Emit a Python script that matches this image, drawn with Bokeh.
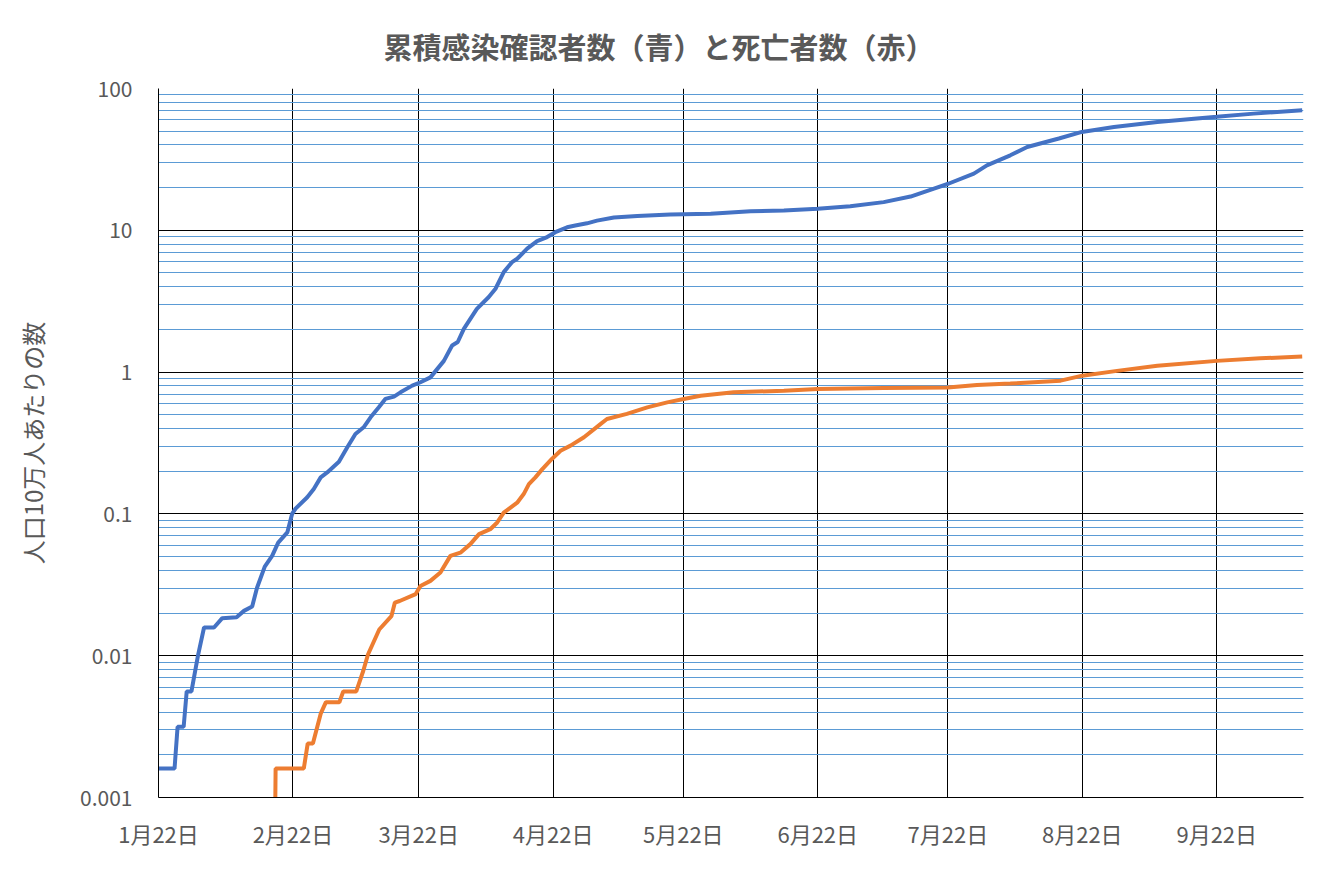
from bokeh.plotting import figure
from bokeh.models import Range1d, FixedTicker
from bokeh.embed import file_html
from bokeh.resources import INLINE

# ---- data (days since 1月22日) ----
tick_days = [0, 31, 60, 91, 121, 152, 182, 213, 244]
tick_labels = ["1月22日", "2月22日", "3月22日", "4月22日", "5月22日",
               "6月22日", "7月22日", "8月22日", "9月22日"]

cases_day = [0, 3.7, 4.4, 5.8, 6.5, 7.6, 9.1, 10.5, 12.8, 14.7, 18.0, 19.7, 21.6,
             22.7, 24.5, 26.2, 27.6, 29.7, 30.8, 31.6, 34.3, 35.8, 37.4, 38.9,
             41.6, 43.5, 45.4, 47.3, 48.9, 50.8, 52.3, 54.3, 55.8, 58.5, 60.4,
             62.7, 65.8, 67.7, 69.0, 70.4, 73.4, 76.1, 77.7, 79.6, 81.5, 82.7,
             85.0, 87.3, 89.6, 91.5, 94.2, 96.1, 98.8, 101.1, 105.0, 110.4, 118.0,
             127.3, 136.5, 144.2, 152.0, 159.5, 167.2, 173.4, 178.8, 182.1, 188.0,
             191.0, 196.4, 200.3, 207.6, 212.9, 220.3, 230.3, 244.0, 252.5, 263.7]
cases_val = [0.0016, 0.0016, 0.00315, 0.00315, 0.0056, 0.0056, 0.0100, 0.0158,
             0.0158, 0.0184, 0.0187, 0.0207, 0.0222, 0.030, 0.0425, 0.0506, 0.0628,
             0.074, 0.100, 0.109, 0.131, 0.150, 0.181, 0.196, 0.233, 0.294, 0.366,
             0.408, 0.48, 0.565, 0.647, 0.672, 0.72, 0.803, 0.848, 0.918, 1.2, 1.54,
             1.63, 2.02, 2.79, 3.37, 3.87, 5.07, 5.96, 6.3, 7.42, 8.4, 8.96, 9.7,
             10.5, 10.8, 11.2, 11.7, 12.3, 12.6, 12.9, 13.1, 13.6, 13.8, 14.2, 14.8,
             15.8, 17.3, 19.7, 21.3, 25.1, 28.7, 33.8, 38.7, 44.4, 49.4, 53.6, 58.1,
             63.1, 66.5, 70.3]

deaths_day = [26, 27, 33.5, 34.4, 35.6, 37.4, 38.6, 41.7, 42.6, 45.6, 47.2, 48.3,
              50.9, 53.7, 54.5, 55.6, 59.3, 60.4, 62.7, 65.0, 67.3, 69.6, 71.9,
              73.9, 76.5, 78.1, 79.6, 82.7, 84.2, 85.4, 86.9, 88.5, 90.7, 92.7,
              95.0, 98.1, 101.9, 103.4, 108.0, 112.7, 117.3, 121.1, 125.0, 132.6,
              144.2, 152.0, 167.2, 182.0, 188.7, 196.4, 208.0, 213.0, 221.0, 230.3,
              244.0, 254.0, 263.7]
deaths_val = [0.000001, 0.0016, 0.0016, 0.0024, 0.0024, 0.0039, 0.0047, 0.0047,
              0.0056, 0.0056, 0.0078, 0.0102, 0.0153, 0.019, 0.0237, 0.0243, 0.0272,
              0.031, 0.0337, 0.0386, 0.0506, 0.0533, 0.0612, 0.072, 0.078, 0.087,
              0.102, 0.12, 0.138, 0.162, 0.181, 0.207, 0.244, 0.279, 0.303, 0.347,
              0.43, 0.467, 0.507, 0.564, 0.612, 0.646, 0.682, 0.72, 0.74, 0.76,
              0.773, 0.78, 0.81, 0.83, 0.87, 0.944, 1.02, 1.11, 1.2, 1.25, 1.29]

y_major = [0.001, 0.01, 0.1, 1, 10, 100]
y_labels = ["0.001", "0.01", "0.1", "1", "10", "100"]
title_text = "累積感染確認者数（青）と死亡者数（赤）"

FONT = "Noto Sans CJK JP"
GRAY = "#595959"

p = figure(width=1315, height=862, output_backend="svg", toolbar_location=None,
           y_axis_type="log",
           x_range=Range1d(0, 264), y_range=Range1d(0.001, 100),
           min_border_left=158, min_border_right=12, min_border_top=88,
           min_border_bottom=65)
p.outline_line_color = None
p.background_fill_color = "white"
p.border_fill_color = "white"

p.title.text = title_text
p.title.text_font = FONT
p.title.text_font_size = "29px"
p.title.text_font_style = "bold"
p.title.text_color = GRAY
p.title.align = "left"
p.title.offset = 225
p.title.vertical_align = "top"
p.title.standoff = 40

# x axis
p.xaxis.ticker = FixedTicker(ticks=tick_days)
p.xaxis.major_label_overrides = {d: l for d, l in zip(tick_days, tick_labels)}
p.xaxis.major_label_text_font = FONT
p.xaxis.major_label_text_font_size = "22px"
p.xaxis.major_label_text_color = GRAY
p.xaxis.major_label_standoff = 13
p.xaxis.major_tick_line_color = None
p.xaxis.minor_tick_line_color = None
p.xaxis.axis_line_color = "black"

# y axis
minor = [m * 10.0 ** e for e in range(-3, 2) for m in range(2, 10)]
yt = FixedTicker(ticks=y_major, minor_ticks=minor)
p.yaxis.ticker = yt
p.yaxis.major_label_overrides = {v: l for v, l in zip(y_major, y_labels)}
p.yaxis.major_label_text_font = FONT
p.yaxis.major_label_text_font_size = "21px"
p.yaxis.major_label_text_color = GRAY
p.yaxis.major_label_standoff = 20
p.yaxis.major_tick_line_color = None
p.yaxis.minor_tick_line_color = None
p.yaxis.axis_line_color = "black"
p.yaxis.axis_label = "人口10万人あたりの数"
p.yaxis.axis_label_text_font = FONT
p.yaxis.axis_label_text_font_size = "24px"
p.yaxis.axis_label_text_font_style = "normal"
p.yaxis.axis_label_text_color = GRAY
p.yaxis.axis_label_standoff = 27

# grids
p.xgrid.grid_line_color = "black"
p.xgrid.grid_line_width = 1
p.ygrid.grid_line_color = "black"
p.ygrid.grid_line_width = 1
p.ygrid.minor_grid_line_color = "#5B9BD5"
p.ygrid.minor_grid_line_width = 1

p.line(cases_day, cases_val, line_color="#4472C4", line_width=4)
p.line(deaths_day, deaths_val, line_color="#ED7D31", line_width=4)

open("out.html", "w").write(file_html(p, INLINE))
